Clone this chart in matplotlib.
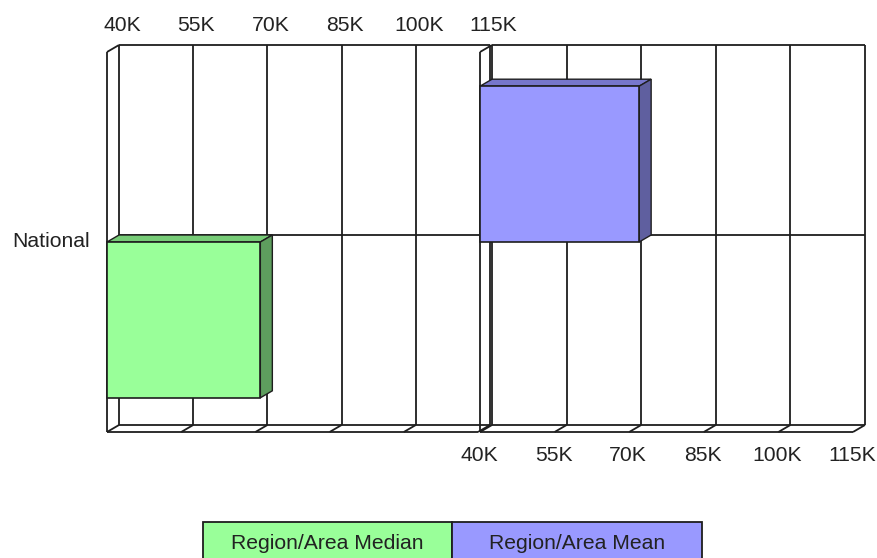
import matplotlib.pyplot as plt
from matplotlib.patches import Polygon, Rectangle

plt.rcParams['font.family'] = ['Liberation Sans', 'DejaVu Sans']

# data
category = 'National'
series = ['Region/Area Median', 'Region/Area Mean']
values = [71000, 72000]
ticks = [40000, 55000, 70000, 85000, 100000, 115000]
tick_labels = ['40K', '55K', '70K', '85K', '100K', '115K']
x_min, x_max = 40000, 115000

face_col = ['#99ff99', '#9999ff']
top_col = ['#77cc77', '#7777cc']
side_col = ['#5e9e5e', '#5f5f9f']
line_col = '#1e1e1e'
FS = 15.2

W, H = 878, 558
fig = plt.figure(figsize=(W / 100, H / 100), dpi=100)

# front plane of each panel in pixels (left, top, width, height)
panels = [(107, 52, 371, 380), (480, 52, 373, 380)]
DX, DY = 12, 7          # depth of the 3d effect, px
BAR_H = 0.41


def line(ax, xs, ys, z=1):
    ax.plot(xs, ys, color=line_col, lw=1.3, clip_on=False, zorder=z,
            solid_capstyle='butt')


def draw_panel(ax, i, w, h):
    ax.set_xlim(x_min, x_max)
    ax.set_ylim(0, 1)
    ax.axis('off')
    px = (x_max - x_min) / w
    py = 1.0 / h
    dx, dy = DX * px, DY * py

    # back wall
    for t in ticks:
        line(ax, [t + dx, t + dx], [dy, 1 + dy])
    line(ax, [x_min + dx, x_max + dx], [1 + dy, 1 + dy])
    line(ax, [x_min + dx, x_max + dx], [0.5 + dy, 0.5 + dy])
    line(ax, [x_min + dx, x_max + dx], [dy, dy])
    # floor
    line(ax, [x_min, x_max], [0, 0])
    for t in ticks:
        line(ax, [t, t + dx], [0, dy])
    # left wall
    line(ax, [x_min, x_min], [0, 1])
    line(ax, [x_min, x_min + dx], [1, 1 + dy])

    # bar: first series in the lower slot, second in the upper one
    yc = 0.5 - BAR_H / 2 if i == 0 else 0.5 + BAR_H / 2
    y0, y1 = yc - BAR_H / 2, yc + BAR_H / 2
    v = values[i]
    ax.barh(yc, v - x_min, left=x_min, height=BAR_H, color=face_col[i],
            edgecolor=line_col, lw=1.2, zorder=3, clip_on=False)
    ax.add_patch(Polygon([(x_min, y1), (x_min + dx, y1 + dy), (v + dx, y1 + dy), (v, y1)],
                         closed=True, fc=top_col[i], ec=line_col, lw=1.0, zorder=2.9,
                         clip_on=False))
    ax.add_patch(Polygon([(v, y0), (v, y1), (v + dx, y1 + dy), (v + dx, y0 + dy)],
                         closed=True, fc=side_col[i], ec=line_col, lw=1.0, zorder=2.9,
                         clip_on=False))

    # value axis labels: top of the left panel, bottom of the right one
    for t, lab in zip(ticks, tick_labels):
        if i == 0:
            ax.text(t + dx + 3 * px, 1 + dy + 14 * py, lab, ha='center', va='baseline',
                    fontsize=FS, color='#222222')
        else:
            ax.text(t - 1 * px, -29 * py, lab, ha='center', va='baseline',
                    fontsize=FS, color='#222222')

    if i == 0:
        ax.text(x_min - 17 * px, 0.5 - 5 * py, category, ha='right', va='baseline',
                fontsize=FS, color='#222222')


for i, (l, t, w, h) in enumerate(panels):
    ax = fig.add_axes([l / W, 1 - (t + h) / H, w / W, h / H])
    draw_panel(ax, i, w, h)

# legend cells under the chart
cells = [(203, 452), (452, 702)]
for (x0, x1), name, col in zip(cells, series, face_col):
    fig.patches.append(Rectangle((x0 / W, 1 - 560 / H), (x1 - x0) / W, 38 / H,
                                 transform=fig.transFigure, fc=col, ec=line_col, lw=1.3))
    fig.text((x0 + x1) / 2 / W, 1 - 549 / H, name, ha='center', va='baseline',
             fontsize=FS, color='#222222')

fig.savefig('out.png', dpi=100)
